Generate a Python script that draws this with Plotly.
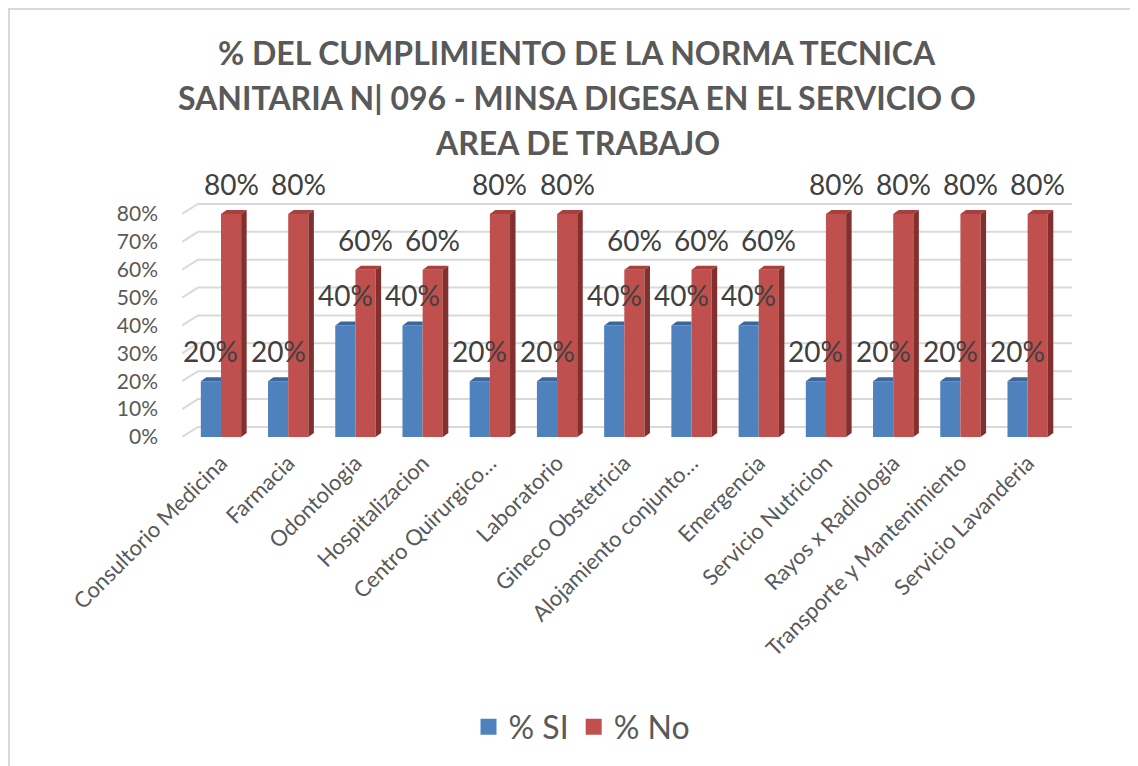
import plotly.graph_objects as go

categories = ["Consultorio Medicina", "Farmacia", "Odontologia", "Hospitalizacion",
              "Centro Quirurgico…", "Laboratorio", "Gineco Obstetricia",
              "Alojamiento conjunto…", "Emergencia", "Servicio Nutricion",
              "Rayos x Radiologia", "Transporte y Mantenimiento", "Servicio Lavanderia"]
si_values = [0.2, 0.2, 0.4, 0.4, 0.2, 0.2, 0.4, 0.4, 0.4, 0.2, 0.2, 0.2, 0.2]
no_values = [0.8, 0.8, 0.6, 0.6, 0.8, 0.8, 0.6, 0.6, 0.6, 0.8, 0.8, 0.8, 0.8]
y_ticks = [0, 0.1, 0.2, 0.3, 0.4, 0.5, 0.6, 0.7, 0.8]
title_lines = ["% DEL CUMPLIMIENTO DE LA NORMA TECNICA",
               "SANITARIA N| 096 - MINSA DIGESA EN EL SERVICIO O",
               "AREA DE TRABAJO"]
series_names = ["% SI", "% No"]

OFF = 8  # page body margin
W, H = 1138, 766
L, R, T, B = 182 - OFF, 66 + OFF, 200 - OFF, 329 + OFF
XR = [-0.58, 12.66]
YR = [0, 0.85]
plot_w, plot_h = W - L - R, H - T - B
px_x = plot_w / (XR[1] - XR[0])
px_y = plot_h / (YR[1] - YR[0])

def py_paper(screen_y):
    return (H - B - (screen_y - OFF)) / plot_h

def px_paper(screen_x):
    return (screen_x - OFF - L) / plot_w

BW = 0.3
DX = 5.5 / px_x
DY = 4.0 / px_y
GDX = 16 / px_x
GDY = 10 / px_y

BLUE, BLUE_TOP = "#4f81bd", "#3c6699"
RED, RED_TOP, RED_SIDE = "#c0504d", "#a6413e", "#82302e"
FONT = "Lato"
GRAY = "#595959"

idx = list(range(len(categories)))
fig = go.Figure()

fig.add_trace(go.Bar(x=idx, y=si_values, offset=-BW, width=BW, name=series_names[0],
                     marker=dict(color=BLUE, line=dict(width=0)), hoverinfo="skip",
                     showlegend=False))
fig.add_trace(go.Bar(x=idx, y=no_values, offset=0, width=BW, name=series_names[1],
                     marker=dict(color=RED, line=dict(width=0)), hoverinfo="skip",
                     showlegend=False))

def poly_trace(xs, ys, color):
    return go.Scatter(x=xs, y=ys, mode="lines", fill="toself", fillcolor=color,
                      line=dict(width=0, color=color), showlegend=False, hoverinfo="skip")

bx, by = [], []
for i, v in zip(idx, si_values):
    x0 = i - BW
    bx += [x0, x0 + BW, x0 + BW, x0 + DX, x0, None]
    by += [v, v, v + DY, v + DY, v, None]
fig.add_trace(poly_trace(bx, by, BLUE_TOP))

tx, ty, sx, sy = [], [], [], []
for i, v in zip(idx, no_values):
    x0 = i
    tx += [x0, x0 + BW, x0 + BW + DX, x0 + DX, x0, None]
    ty += [v, v, v + DY, v + DY, v, None]
    sx += [x0 + BW, x0 + BW + DX, x0 + BW + DX, x0 + BW, x0 + BW, None]
    sy += [0, DY, v + DY, v, 0, None]
fig.add_trace(poly_trace(tx, ty, RED_TOP))
fig.add_trace(poly_trace(sx, sy, RED_SIDE))

# legend entries with large square swatches
for name, color in zip(series_names, [BLUE, RED]):
    fig.add_trace(go.Scatter(x=[None], y=[None], mode="markers", name=name,
                             marker=dict(symbol="square", size=20, color=color),
                             hoverinfo="skip"))

shapes = []
for v in y_ticks:
    shapes.append(dict(type="path", xref="x", yref="y", layer="below",
                       path=f"M {XR[0]},{v} L {XR[0]+GDX},{v+GDY} L {XR[1]},{v+GDY}",
                       line=dict(color="#d9d9d9", width=2)))
shapes.append(dict(type="rect", xref="paper", yref="paper", layer="below",
                   x0=px_paper(9), x1=px_paper(W + 60),
                   y0=py_paper(H + 60), y1=py_paper(9),
                   line=dict(color="#d9d9d9", width=2), fillcolor="rgba(0,0,0,0)"))

annotations = []
for i, v in zip(idx, si_values):
    annotations.append(dict(x=i - BW / 2, y=v, yshift=30, text=f"{round(v*100)}%",
                            showarrow=False, font=dict(family=FONT, size=28, color="#404040")))
for i, v in zip(idx, no_values):
    annotations.append(dict(x=i + BW / 2, y=v, yshift=30, text=f"{round(v*100)}%",
                            showarrow=False, font=dict(family=FONT, size=28, color="#404040")))
for line, sy_ in zip(title_lines, [52, 98, 142]):
    annotations.append(dict(xref="paper", yref="paper", x=px_paper(577),
                            y=py_paper(sy_), yanchor="middle", xanchor="center",
                            text=f"<b>{line}</b>", showarrow=False,
                            font=dict(family=FONT, size=32, color=GRAY)))

fig.update_layout(
    width=W, height=H, margin=dict(l=L, r=R, t=T, b=B, autoexpand=False),
    paper_bgcolor="white", plot_bgcolor="white",
    barmode="overlay", shapes=shapes, annotations=annotations,
    showlegend=True,
    legend=dict(orientation="h", x=px_paper(582), xanchor="center",
                y=py_paper(727), yanchor="middle",
                font=dict(family=FONT, size=32, color=GRAY), itemwidth=30),
    xaxis=dict(range=XR, tickvals=idx, ticktext=categories, tickangle=-45,
               showgrid=False, zeroline=False, showline=False,
               tickfont=dict(family=FONT, size=22, color=GRAY), ticklabelstandoff=8),
    yaxis=dict(range=YR, tickvals=y_ticks, tickformat=".0%", showgrid=False,
               zeroline=False, showline=False,
               tickfont=dict(family=FONT, size=21, color=GRAY), ticklabelstandoff=23),
)

fig.write_html("out.html")
